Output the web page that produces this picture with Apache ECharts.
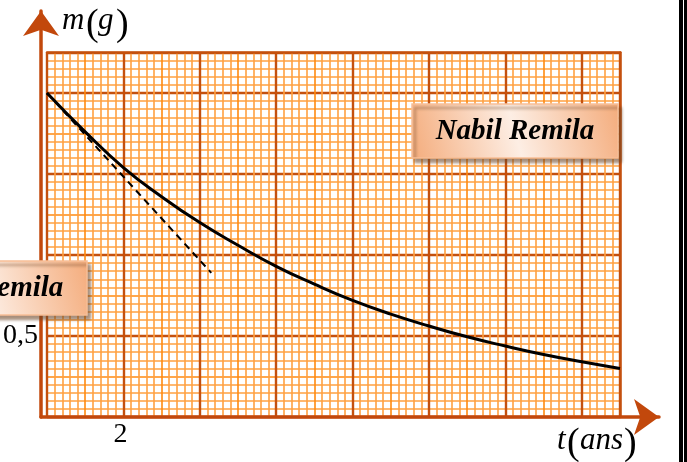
<!DOCTYPE html>
<html><head><meta charset="utf-8">
<script src="https://cdn.jsdelivr.net/npm/echarts@6/dist/echarts.min.js"></script>
<style>html,body{margin:0;padding:0;background:#fff}#c{width:687px;height:462px}</style>
</head><body><div id="c"></div>
<script>
// ---- data ----
const tYears = [0, 1, 2, 3, 4, 5, 6, 7, 8, 9, 10, 11, 12, 13, 14, 15];
const massG  = [2.0, 1.76, 1.54, 1.36, 1.20, 1.06, 0.93, 0.82, 0.72, 0.635, 0.562, 0.495, 0.438, 0.386, 0.341, 0.30];
const tangentT = [0, 4.3];
const tangentM = [2.0, 0.89];
const xTickLabels = [2];
const yTickLabels = [0.5];
const xRange = [0, 15];
const yRange = [0, 2.25];
const xMajor = 2, yMajor = 0.5;
const xMinor = 0.2, yMinor = 0.05;

// ---- styles ----
const MAJ = '#c4500e', MID = '#ff8a10', MIN = '#ffa040', AX = '#c2480c';
function gridColors(n) {
  const a = [];
  for (let i = 0; i <= n; i++) a.push((i % 10 === 0 || i === n) ? MAJ : (i % 10 === 5 ? MID : MIN));
  return a;
}
const nx = Math.round((xRange[1] - xRange[0]) / xMinor);
const ny = Math.round((yRange[1] - yRange[0]) / yMinor);
const serif = '"Liberation Serif", "Times New Roman", serif';
const isTick = (list, v) => list.some(t => Math.abs(t - v) < 1e-6);

const curve = tYears.map((t, i) => [t, massG[i]]);
const tangent = tangentT.map((t, i) => [t, tangentM[i]]);

const chart = echarts.init(document.getElementById('c'), null, {renderer: 'canvas'});

function box(x, y) {
  return [
    {type: 'rect', z: 20, shape: {x: x, y: y, width: 206, height: 54},
     style: {
       fill: new echarts.graphic.LinearGradient(0, 1, 1, 0, [
         {offset: 0, color: '#f4ac7c'}, {offset: 0.5, color: '#fdeee4'}, {offset: 1, color: '#f4ac7c'}]),
       stroke: '#f7bf96', lineWidth: 1.5,
       shadowBlur: 3, shadowOffsetX: 3, shadowOffsetY: 4, shadowColor: 'rgba(110,70,40,0.6)'}},
    {type: 'text', z: 21, style: {text: 'Nabil Remila', x: x + 103, y: y + 28, align: 'center', verticalAlign: 'middle',
      font: 'italic bold 29px ' + serif, fill: '#000'}}
  ];
}

const arrowLine = {show: true, onZero: false, symbol: ['none', 'arrow'], symbolSize: [27, 25],
  lineStyle: {color: AX, width: 3.5}};

chart.setOption({
  animation: false,
  backgroundColor: '#fff',
  grid: [
    {left: 41, right: 67, top: 52.5, bottom: 45},
    {left: 41, right: 28, top: 11, bottom: 45}
  ],
  xAxis: [
    {gridIndex: 0, type: 'value', min: xRange[0], max: xRange[1], interval: xMinor,
     axisLine: {show: false, onZero: false}, axisTick: {show: false},
     axisLabel: {formatter: v => isTick(xTickLabels, v) ? String(v).replace('.', ',') : '',
       fontFamily: serif, fontSize: 28, color: '#000', margin: 4, padding: [0, 6, 0, 0]},
     splitLine: {show: true, lineStyle: {color: gridColors(nx), width: 1.6}}},
    {gridIndex: 0, type: 'value', position: 'top', min: xRange[0], max: xRange[1], interval: xMajor,
     axisLine: {show: true, onZero: false, lineStyle: {color: MAJ, width: 2.5}},
     axisTick: {show: false}, axisLabel: {show: false},
     splitLine: {show: true, lineStyle: {color: MAJ, width: 2.4}}},
    {gridIndex: 1, type: 'value', min: 0, max: 1, axisLine: arrowLine,
     axisTick: {show: false}, axisLabel: {show: false}, splitLine: {show: false}}
  ],
  yAxis: [
    {gridIndex: 0, type: 'value', min: yRange[0], max: yRange[1], interval: yMinor,
     axisLine: {show: false, onZero: false}, axisTick: {show: false},
     axisLabel: {formatter: v => isTick(yTickLabels, v) ? String(v).replace('.', ',') : '',
       fontFamily: serif, fontSize: 28, color: '#000', margin: 9},
     splitLine: {show: true, lineStyle: {color: gridColors(ny), width: 1.6}}},
    {gridIndex: 0, type: 'value', position: 'right', min: yRange[0], max: yRange[1], interval: yMajor,
     axisLine: {show: true, onZero: false, lineStyle: {color: MAJ, width: 2.5}},
     axisTick: {show: false}, axisLabel: {show: false},
     splitLine: {show: true, lineStyle: {color: MAJ, width: 2.4}}},
    {gridIndex: 1, type: 'value', min: 0, max: 1, axisLine: arrowLine,
     axisTick: {show: false}, axisLabel: {show: false}, splitLine: {show: false}}
  ],
  series: [
    {type: 'line', xAxisIndex: 0, yAxisIndex: 0, data: curve, smooth: true, showSymbol: false,
     lineStyle: {color: '#000', width: 3}, z: 5},
    {type: 'line', xAxisIndex: 0, yAxisIndex: 0, data: tangent, showSymbol: false,
     lineStyle: {color: '#000', width: 2, type: [7, 5]}, z: 4}
  ],
  graphic: [
    ...box(412, 104),
    ...box(-119, 261),
    {type: 'text', style: {text: 'm', x: 62, y: 21, verticalAlign: 'middle', font: 'italic 31px ' + serif, fill: '#000'}},
    {type: 'text', style: {text: '(', x: 86, y: 25, verticalAlign: 'middle', font: '38px ' + serif, fill: '#000'}},
    {type: 'text', style: {text: 'g', x: 98, y: 21, verticalAlign: 'middle', font: 'italic 31px ' + serif, fill: '#000'}},
    {type: 'text', style: {text: ')', x: 116, y: 25, verticalAlign: 'middle', font: '38px ' + serif, fill: '#000'}},
    {type: 'text', style: {text: 't', x: 557, y: 441, verticalAlign: 'middle', font: 'italic 31px ' + serif, fill: '#000'}},
    {type: 'text', style: {text: '(', x: 567, y: 444, verticalAlign: 'middle', font: '38px ' + serif, fill: '#000'}},
    {type: 'text', style: {text: 'ans', x: 580, y: 441, verticalAlign: 'middle', font: 'italic 31px ' + serif, fill: '#000'}},
    {type: 'text', style: {text: ')', x: 624, y: 444, verticalAlign: 'middle', font: '38px ' + serif, fill: '#000'}},
    {type: 'rect', shape: {x: 679, y: 0, width: 4, height: 462}, style: {fill: '#000'}},
    {type: 'rect', shape: {x: 684, y: 0, width: 3, height: 462}, style: {fill: '#000'}}
  ]
});
</script></body></html>
